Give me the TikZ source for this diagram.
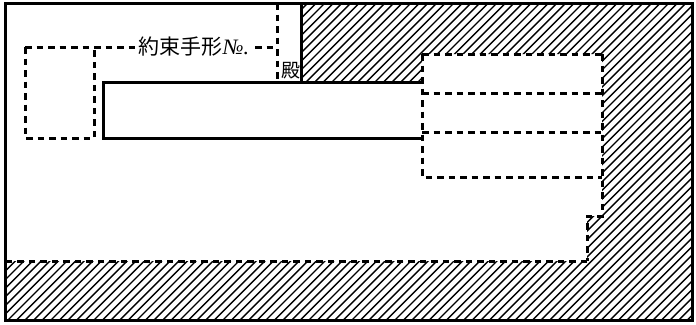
\documentclass[tikz,border=0pt]{standalone}
\usepackage{fontspec}
\setmainfont{Liberation Serif}
\newfontfamily\cjk{Noto Sans CJK JP}
\tikzset{
  solidline/.style={line width=3pt,black},
  dashline/.style={line width=3pt,black,dash pattern=on 6.5pt off 5pt},
  thindash/.style={line width=3pt,black,dash pattern=on 6.5pt off 5pt},
  hatchline/.style={line width=1.4pt,black},
  lbl/.style={inner sep=0pt,font=\cjk\fontsize{21}{21}\selectfont}
}
\begin{document}
\begin{tikzpicture}[x=1pt,y=-1pt]
\useasboundingbox (0,0) rectangle (696,324);
\fill[white] (0,0) rectangle (696,324);
% hatched region
\begin{scope}
\clip (301,3) -- (692,3) -- (692,320) -- (5,320) -- (5,261) -- (587,261) -- (587,216) -- (602,216) -- (602,54) -- (422,54) -- (422,82) -- (301,82) -- cycle;
\foreach \k in {-340,-331.4,...,1040}{
  \draw[hatchline] (\k,324) -- ++(340,-340);
}
\end{scope}
% frame
\coordinate (tl) at (5,3);
\coordinate (br) at (692,320);
\draw[solidline] (tl) rectangle (br);
\draw[solidline] (301,3) -- (301,82);
% band rectangle
\coordinate (b1) at (422,82);
\coordinate (b2) at (103,82);
\coordinate (b3) at (103,138);
\coordinate (b4) at (422,138);
\draw[solidline] (b1) -- (b2) -- (b3) -- (b4);
% dashed
\draw[dashline] (25,47) -- (277,47);
\draw[dashline] (25,47) -- (25,138) -- (94,138) -- (94,47);
\draw[dashline] (277,3) -- (277,82);
\draw[dashline] (422,54) -- (602,54);
\draw[dashline] (422,54) -- (422,177) -- (602,177);
\draw[dashline] (422,93) -- (602,93);
\draw[dashline] (422,132) -- (602,132);
\draw[dashline] (602,54) -- (602,216) -- (587,216) -- (587,261);
\draw[thindash] (587,261) -- (5,261);
% labels
\node[lbl,fill=white,inner xsep=1.5pt,anchor=center] (title) at (194,46.5) {\cjk 約束手形\rmfamily\itshape\fontsize{22}{22}\selectfont №.};
\node[lbl,font=\cjk\fontsize{19}{19}\selectfont] (dono) at (290.5,71) {殿};
\end{tikzpicture}
\end{document}
